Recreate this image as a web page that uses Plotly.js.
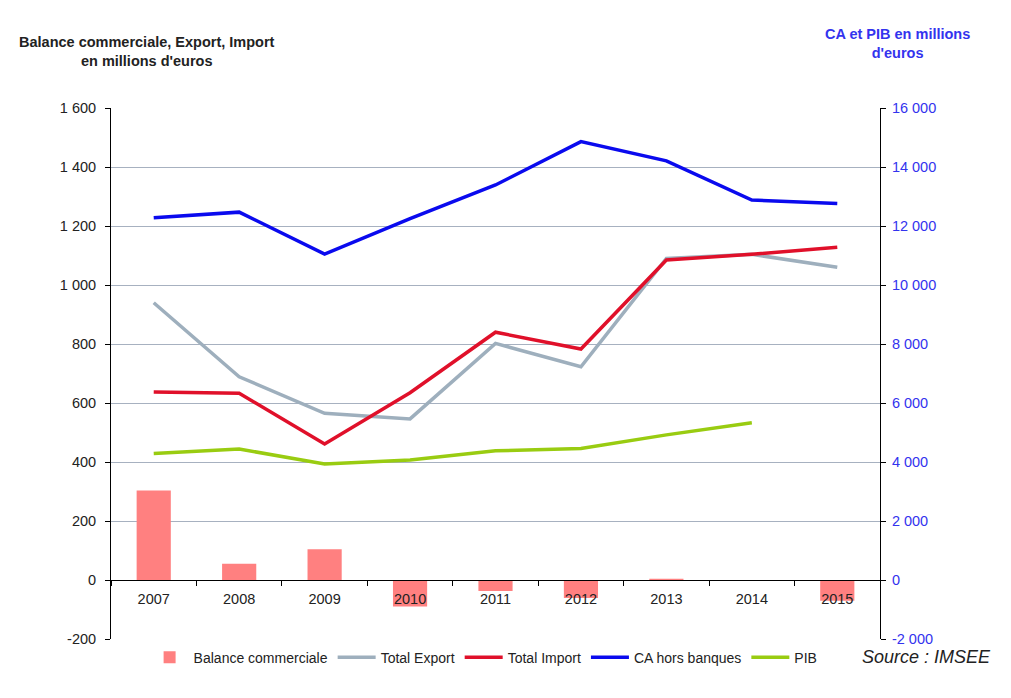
<!DOCTYPE html>
<html>
<head>
<meta charset="utf-8">
<script src="https://cdn.plot.ly/plotly-3.0.1.min.js"></script>
<style>html,body{margin:0;padding:0;background:#fff;}#chart{width:1011px;height:698px;}</style>
</head>
<body>
<div id="chart"></div>
<script>
const years = ['2007','2008','2009','2010','2011','2012','2013','2014','2015'];
const balance = [303, 55, 104, -90, -37, -61, 4, 0, -70];
const totalExport = [940, 689, 565, 546, 802, 723, 1090, 1104, 1060];
const totalImport = [637, 633, 461, 635, 840, 783, 1085, 1104, 1128];
const caHorsBanques = [12280, 12470, 11050, 12250, 13390, 14860, 14210, 12880, 12760];
const pib = [4290, 4440, 3930, 4070, 4380, 4460, 4920, 5330, null];

const leftTickVals = [-200, 0, 200, 400, 600, 800, 1000, 1200, 1400, 1600];
const leftTickText = ['-200', '0', '200', '400', '600', '800', '1 000', '1 200', '1 400', '1 600'];
const rightTickVals = [-2000, 0, 2000, 4000, 6000, 8000, 10000, 12000, 14000, 16000];
const rightTickText = ['-2 000', '0', '2 000', '4 000', '6 000', '8 000', '10 000', '12 000', '14 000', '16 000'];
const gridVals = [200, 400, 600, 800, 1000, 1200, 1400];

const FONT = 'Liberation Sans, Arial, sans-serif';

const traces = [
  {type:'bar', name:'Balance commerciale', x:years, y:balance, marker:{color:'#ff8080'}, width:0.4, yaxis:'y'},
  {type:'scatter', mode:'lines', name:'Total Export', x:years, y:totalExport, line:{color:'#9eafbd', width:3.5}, yaxis:'y'},
  {type:'scatter', mode:'lines', name:'Total Import', x:years, y:totalImport, line:{color:'#e0102a', width:3.5}, yaxis:'y'},
  {type:'scatter', mode:'lines', name:'CA hors banques', x:years, y:caHorsBanques, line:{color:'#0a0aee', width:3.5}, yaxis:'y2'},
  {type:'scatter', mode:'lines', name:'PIB', x:years, y:pib, line:{color:'#99cc11', width:3.5}, yaxis:'y2', connectgaps:false}
];

const layout = {
  width:1011, height:698,
  margin:{l:111, r:131, t:108, b:59},
  paper_bgcolor:'#fff', plot_bgcolor:'rgba(0,0,0,0)',
  font:{family:FONT, size:14, color:'#222'},
  showlegend:true,
  legend:{orientation:'h', x:0.045, xanchor:'left', y:-0.005, yanchor:'top', font:{size:14, color:'#222'}, itemwidth:38, tracegroupgap:0},
  xaxis:{
    type:'category', anchor:'free', position:200/1800,
    range:[-0.5, 8.5],
    showline:true, linecolor:'#000', linewidth:1,
    ticks:'outside', tickson:'boundaries', ticklen:5, tickcolor:'#000',
    showgrid:false, zeroline:false,
    tickfont:{size:14.5, color:'#222'}, ticklabelstandoff:6
  },
  yaxis:{
    range:[-200, 1600], tickvals:leftTickVals, ticktext:leftTickText,
    showline:true, linecolor:'#000', linewidth:1,
    ticks:'outside', ticklen:5, tickcolor:'#000',
    showgrid:false, zeroline:false,
    tickfont:{size:14.5, color:'#222'}, ticklabelstandoff:6
  },
  yaxis2:{
    range:[-2000, 16000], tickvals:rightTickVals, ticktext:rightTickText,
    overlaying:'y', side:'right',
    showline:true, linecolor:'#000', linewidth:1,
    ticks:'outside', ticklen:5, tickcolor:'#000',
    showgrid:false, zeroline:false,
    tickfont:{size:14.5, color:'#3333ee'}, ticklabelstandoff:3
  },
  yaxis3:{
    range:[-200, 1600], tickvals:gridVals, overlaying:'y',
    showgrid:true, gridcolor:'#a7b1c0', gridwidth:1,
    showticklabels:false, ticks:'', showline:false, zeroline:false
  },
  annotations:[
    {xref:'paper', yref:'paper', x:0.047, y:1.07, xanchor:'center', yanchor:'bottom', showarrow:false,
     text:'<b>Balance commerciale, Export, Import<br>en millions d\'euros</b>', font:{size:14.5, color:'#222'}, align:'center'},
    {xref:'paper', yref:'paper', x:1.023, y:1.085, xanchor:'center', yanchor:'bottom', showarrow:false,
     text:'<b>CA et PIB en millions<br>d\'euros</b>', font:{size:14.5, color:'#3333ee'}, align:'center'},
    {xref:'paper', yref:'paper', x:1.147, y:-0.033, xanchor:'right', yanchor:'middle', showarrow:false,
     text:'<i>Source : IMSEE</i>', font:{size:18, color:'#222'}}
  ]
};

traces.push({type:'scatter', mode:'lines', x:years, y:years.map(()=>null), yaxis:'y3', showlegend:false, hoverinfo:'skip'});

Plotly.newPlot('chart', traces, layout, {displayModeBar:false, staticPlot:true});
</script>
</body>
</html>
